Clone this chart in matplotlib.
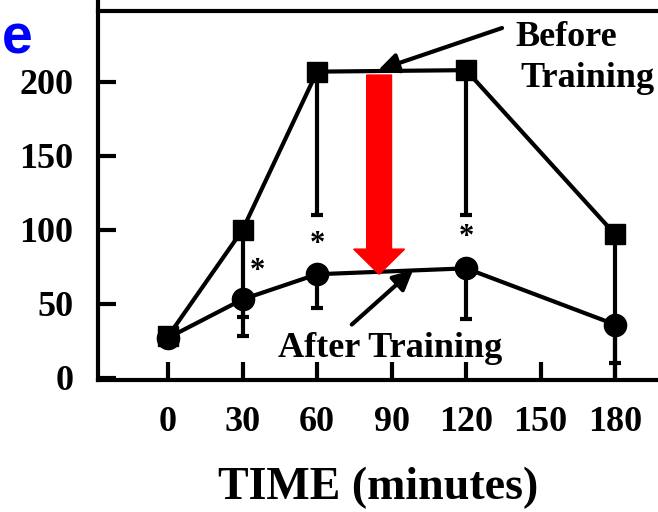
import matplotlib
matplotlib.use("Agg")
import matplotlib.pyplot as plt
from matplotlib.patches import FancyArrow

# ---- data ----
time = [0, 30, 60, 120, 180]
before = [28, 100, 207, 208, 97]
before_err_low = [0, 59, 97, 98, 100]
after = [27, 53, 70, 74, 36]
after_err_low = [0, 25, 23, 34, 26]
star_x = [36, 60, 120]
star_y = [72, 90, 95]
xticks = [0, 30, 60, 90, 120, 150, 180]
yticks = [0, 50, 100, 150, 200]

W, H = 658, 512
fig = plt.figure(figsize=(W / 100, H / 100), dpi=100)
ax = fig.add_axes([98 / W, (512 - 380) / H, (W - 98) / W, (380 - 11) / H])
ax.set_xlim(-28.2, 197.3)
ax.set_ylim(-1.5, 248)

serif = "Liberation Serif"
lw = 3.0

# before training (squares)
ax.errorbar(time, before, yerr=[before_err_low, [0] * len(time)], fmt='none',
            ecolor='black', elinewidth=lw, capsize=4, capthick=lw, zorder=2)
ax.plot(time, before, color='black', lw=lw, marker='s', markersize=15, zorder=3)

# after training (circles)
ax.errorbar(time, after, yerr=[after_err_low, [0] * len(time)], fmt='none',
            ecolor='black', elinewidth=lw, capsize=4, capthick=lw, zorder=2)
ax.plot(time, after, color='black', lw=lw, marker='o', markersize=16, zorder=3)

# significance stars
for sx, sy in zip(star_x, star_y):
    ax.text(sx, sy, "*", ha='center', va='center', fontsize=22,
            fontweight='bold', family=serif)

# annotations
ax.annotate("", xy=(84.6, 208), xytext=(134.5, 236.5),
            arrowprops=dict(arrowstyle='-|>', lw=3, color='black', mutation_scale=30,
                            shrinkA=0, shrinkB=0))
ax.text(139.7, 224.3, "Before", ha='left', va='baseline', fontsize=26,
        fontweight='bold', family=serif)
ax.text(141.7, 196.5, "Training", ha='left', va='baseline', fontsize=26,
        fontweight='bold', family=serif)
ax.annotate("", xy=(98.7, 73), xytext=(74, 36),
            arrowprops=dict(arrowstyle='-|>', lw=3, color='black', mutation_scale=30,
                            shrinkA=0, shrinkB=0))
ax.text(89.4, 14.2, "After Training", ha='center', va='baseline', fontsize=26,
        fontweight='bold', family=serif)

# red arrow
ax.add_patch(FancyArrow(85, 204.7, 0, -134.7, width=10, head_width=20.5,
                        head_length=17, length_includes_head=True,
                        color='red', zorder=5))

# spines / ticks
ax.spines['right'].set_visible(False)
for s in ['left', 'bottom', 'top']:
    ax.spines[s].set_linewidth(lw)
ax.spines['left'].set_bounds(-1.5, 256)
ax.set_xticks(xticks)
ax.set_yticks(yticks)
ax.tick_params(direction='in', length=13, width=lw)
ax.tick_params(axis='y', pad=17.6)
ax.tick_params(axis='x', pad=18.5)
for lab in ax.get_xticklabels() + ax.get_yticklabels():
    lab.set_family(serif)
    lab.set_fontweight('bold')
    lab.set_fontsize(26)

ax.set_xlabel("TIME (minutes)", family=serif, fontweight='bold', fontsize=33, labelpad=20)

fig.text(2 / W, 1 - 53 / H, "e", color='#0000ff', fontsize=40, fontweight='bold',
         family='Liberation Sans', ha='left', va='baseline')

fig.savefig("out.png", dpi=100)
